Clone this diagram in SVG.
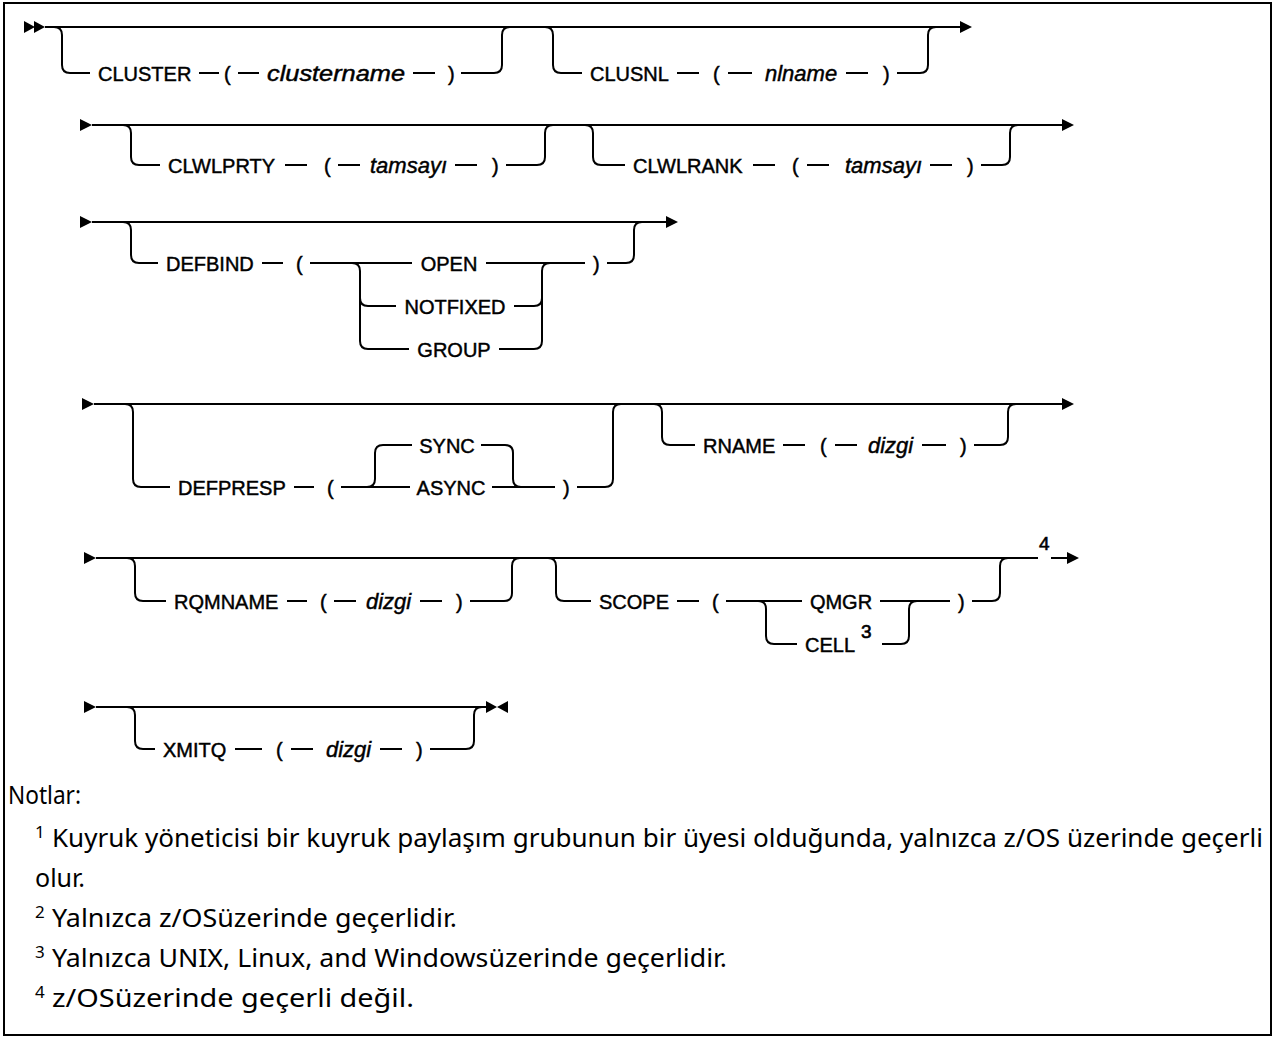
<svg xmlns="http://www.w3.org/2000/svg" width="1276" height="1038" viewBox="0 0 1276 1038">
<style>
.ln{fill:none;stroke:#000;stroke-width:2}
.ah{fill:#000;stroke:none}
.kw{font-family:"Liberation Sans",Arial,sans-serif;font-size:20px;fill:#000;stroke:#000;stroke-width:0.45px}
.var{font-family:"Liberation Sans",Arial,sans-serif;font-size:22px;font-style:italic;fill:#000;stroke:#000;stroke-width:0.45px}
.sup{font-family:"Liberation Sans",Arial,sans-serif;font-size:19px;fill:#000;stroke:#000;stroke-width:0.6px}
.note{font-family:"Noto Sans","Liberation Sans",sans-serif;font-size:25px;fill:#000}
.nsup{font-family:"Noto Sans","Liberation Sans",sans-serif;font-size:17px;fill:#000}
.mid{text-anchor:middle}
</style>
<rect x="4" y="3" width="1267" height="1032" fill="#fff" stroke="#000" stroke-width="2"/>
<g id="connectors">
<!-- row 1 -->
<polygon class="ah" points="24,21 35,27 24,33"/>
<polygon class="ah" points="34,21 45,27 34,33"/>
<path class="ln" d="M45 27 H962"/>
<polygon class="ah" points="960,21 972,27 960,33"/>
<path class="ln" d="M54 27 Q62 27 62 35 V65 Q62 73 70 73 H90 M199 73 H219 M238 73 H259 M413 73 H435 M461 73 H494 Q502 73 502 65 V35 Q502 27 510 27"/>
<path class="ln" d="M545 27 Q553 27 553 35 V65 Q553 73 561 73 H582 M677 73 H699 M728 73 H752 M846 73 H868 M897 73 H920 Q928 73 928 65 V35 Q928 27 936 27"/>
<!-- row 2 -->
<polygon class="ah" points="80,119 92,125 80,131"/>
<path class="ln" d="M92 125 H1062"/>
<polygon class="ah" points="1062,119 1074,125 1062,131"/>
<path class="ln" d="M123 125 Q131 125 131 133 V157 Q131 165 139 165 H160 M285 165 H307 M338 165 H360 M455 165 H477 M506 165 H537 Q545 165 545 157 V133 Q545 125 553 125"/>
<path class="ln" d="M585 125 Q593 125 593 133 V157 Q593 165 601 165 H625 M753 165 H775 M807 165 H829 M930 165 H952 M981 165 H1002 Q1010 165 1010 157 V133 Q1010 125 1018 125"/>
<!-- row 3 -->
<polygon class="ah" points="80,216 92,222 80,228"/>
<path class="ln" d="M92 222 H666"/>
<polygon class="ah" points="666,216 678,222 666,228"/>
<path class="ln" d="M123 222 Q131 222 131 230 V255 Q131 263 139 263 H158 M262 263 H283 M310 263 H412 M486 263 H585 M607 263 H626 Q634 263 634 255 V230 Q634 222 642 222"/>
<path class="ln" d="M352 263 Q360 263 360 271 V341 Q360 349 368 349 H409 M360 298 Q360 306 368 306 H396"/>
<path class="ln" d="M514 306 H534 Q542 306 542 298 M499 349 H534 Q542 349 542 341 V271 Q542 263 550 263"/>
<!-- row 4 -->
<polygon class="ah" points="82,398 94,404 82,410"/>
<path class="ln" d="M94 404 H1062"/>
<polygon class="ah" points="1062,398 1074,404 1062,410"/>
<path class="ln" d="M125 404 Q133 404 133 412 V479 Q133 487 141 487 H170 M294 487 H314 M341 487 H410 M492 487 H555 M577 487 H605 Q613 487 613 479 V412 Q613 404 621 404"/>
<path class="ln" d="M367 487 Q375 487 375 479 V453 Q375 445 383 445 H412 M481 445 H505 Q513 445 513 453 V479 Q513 487 521 487"/>
<path class="ln" d="M654 404 Q662 404 662 412 V437 Q662 445 670 445 H695 M783 445 H805 M835 445 H857 M922 445 H946 M974 445 H1000 Q1008 445 1008 437 V412 Q1008 404 1016 404"/>
<!-- row 5 -->
<polygon class="ah" points="84,552 96,558 84,564"/>
<path class="ln" d="M96 558 H1038 M1051 558 H1069"/>
<polygon class="ah" points="1067,552 1079,558 1067,564"/>
<path class="ln" d="M127 558 Q135 558 135 566 V593 Q135 601 143 601 H166 M287 601 H307 M334 601 H356 M420 601 H442 M470 601 H504 Q512 601 512 593 V566 Q512 558 520 558"/>
<path class="ln" d="M548 558 Q556 558 556 566 V593 Q556 601 564 601 H591 M677 601 H699 M726 601 H802 M880 601 H950 M972 601 H992 Q1000 601 1000 593 V566 Q1000 558 1008 558"/>
<path class="ln" d="M758 601 Q766 601 766 609 V636 Q766 644 774 644 H797 M882 644 H901 Q909 644 909 636 V609 Q909 601 917 601"/>
<!-- row 6 -->
<polygon class="ah" points="84,701 96,707 84,713"/>
<path class="ln" d="M96 707 H486"/>
<polygon class="ah" points="486,701 497,707 486,713"/>
<polygon class="ah" points="508,701 497,707 508,713"/>
<path class="ln" d="M127 707 Q135 707 135 715 V741 Q135 749 143 749 H155 M235 749 H262 M291 749 H313 M380 749 H402 M430 749 H466 Q474 749 474 741 V715 Q474 707 482 707"/>
</g>
<g id="opt-cluster">
<text class="kw" x="98" y="81">CLUSTER</text>
<text class="kw" x="224" y="81">(</text>
<text class="var" x="267" y="81" textLength="138" lengthAdjust="spacingAndGlyphs">clustername</text>
<text class="kw" x="448" y="81">)</text>
</g>
<g id="opt-clusnl">
<text class="kw" x="590" y="81">CLUSNL</text>
<text class="kw" x="713" y="81">(</text>
<text class="var" x="765" y="81">nlname</text>
<text class="kw" x="883" y="81">)</text>
</g>
<g id="opt-clwlprty">
<text class="kw" x="168" y="173">CLWLPRTY</text>
<text class="kw" x="324" y="173">(</text>
<text class="var" x="370" y="173">tamsayı</text>
<text class="kw" x="492" y="173">)</text>
</g>
<g id="opt-clwlrank">
<text class="kw" x="633" y="173">CLWLRANK</text>
<text class="kw" x="792" y="173">(</text>
<text class="var" x="845" y="173">tamsayı</text>
<text class="kw" x="967" y="173">)</text>
</g>
<g id="opt-defbind">
<text class="kw" x="166" y="271">DEFBIND</text>
<text class="kw" x="296" y="271">(</text>
<text class="kw mid" x="449" y="271">OPEN</text>
<text class="kw mid" x="455" y="314">NOTFIXED</text>
<text class="kw mid" x="454" y="357">GROUP</text>
<text class="kw" x="593" y="271">)</text>
</g>
<g id="opt-defpresp">
<text class="kw" x="178" y="495">DEFPRESP</text>
<text class="kw" x="327" y="495">(</text>
<text class="kw mid" x="447" y="453">SYNC</text>
<text class="kw mid" x="451" y="495">ASYNC</text>
<text class="kw" x="563" y="495">)</text>
</g>
<g id="opt-rname">
<text class="kw" x="703" y="453">RNAME</text>
<text class="kw" x="820" y="453">(</text>
<text class="var" x="868" y="453">dizgi</text>
<text class="kw" x="960" y="453">)</text>
</g>
<g id="opt-rqmname">
<text class="kw" x="174" y="609">RQMNAME</text>
<text class="kw" x="320" y="609">(</text>
<text class="var" x="366" y="609">dizgi</text>
<text class="kw" x="456" y="609">)</text>
</g>
<g id="opt-scope">
<text class="kw" x="599" y="609">SCOPE</text>
<text class="kw" x="712" y="609">(</text>
<text class="kw mid" x="841" y="609">QMGR</text>
<text class="kw" x="805" y="652">CELL</text>
<text class="sup" x="861" y="638">3</text>
<text class="kw" x="958" y="609">)</text>
</g>
<g id="note-ref-4">
<text class="sup" x="1039" y="550">4</text>
</g>
<g id="opt-xmitq">
<text class="kw" x="163" y="757">XMITQ</text>
<text class="kw" x="276" y="757">(</text>
<text class="var" x="326" y="757">dizgi</text>
<text class="kw" x="416" y="757">)</text>
</g>
<g id="notes">
<text class="note" x="8" y="804" textLength="73" lengthAdjust="spacingAndGlyphs">Notlar:</text>
<text class="nsup" x="35" y="838">1</text>
<text class="note" x="52" y="847" textLength="1211" lengthAdjust="spacingAndGlyphs">Kuyruk yöneticisi bir kuyruk paylaşım grubunun bir üyesi olduğunda, yalnızca z/OS üzerinde geçerli</text>
<text class="note" x="35" y="887">olur.</text>
<text class="nsup" x="35" y="918">2</text>
<text class="note" x="52" y="927" textLength="405" lengthAdjust="spacingAndGlyphs">Yalnızca z/OSüzerinde geçerlidir.</text>
<text class="nsup" x="35" y="958">3</text>
<text class="note" x="52" y="967" textLength="675" lengthAdjust="spacingAndGlyphs">Yalnızca UNIX, Linux, and Windowsüzerinde geçerlidir.</text>
<text class="nsup" x="35" y="998">4</text>
<text class="note" x="52" y="1007" textLength="362" lengthAdjust="spacingAndGlyphs">z/OSüzerinde geçerli değil.</text>
</g>
</svg>
